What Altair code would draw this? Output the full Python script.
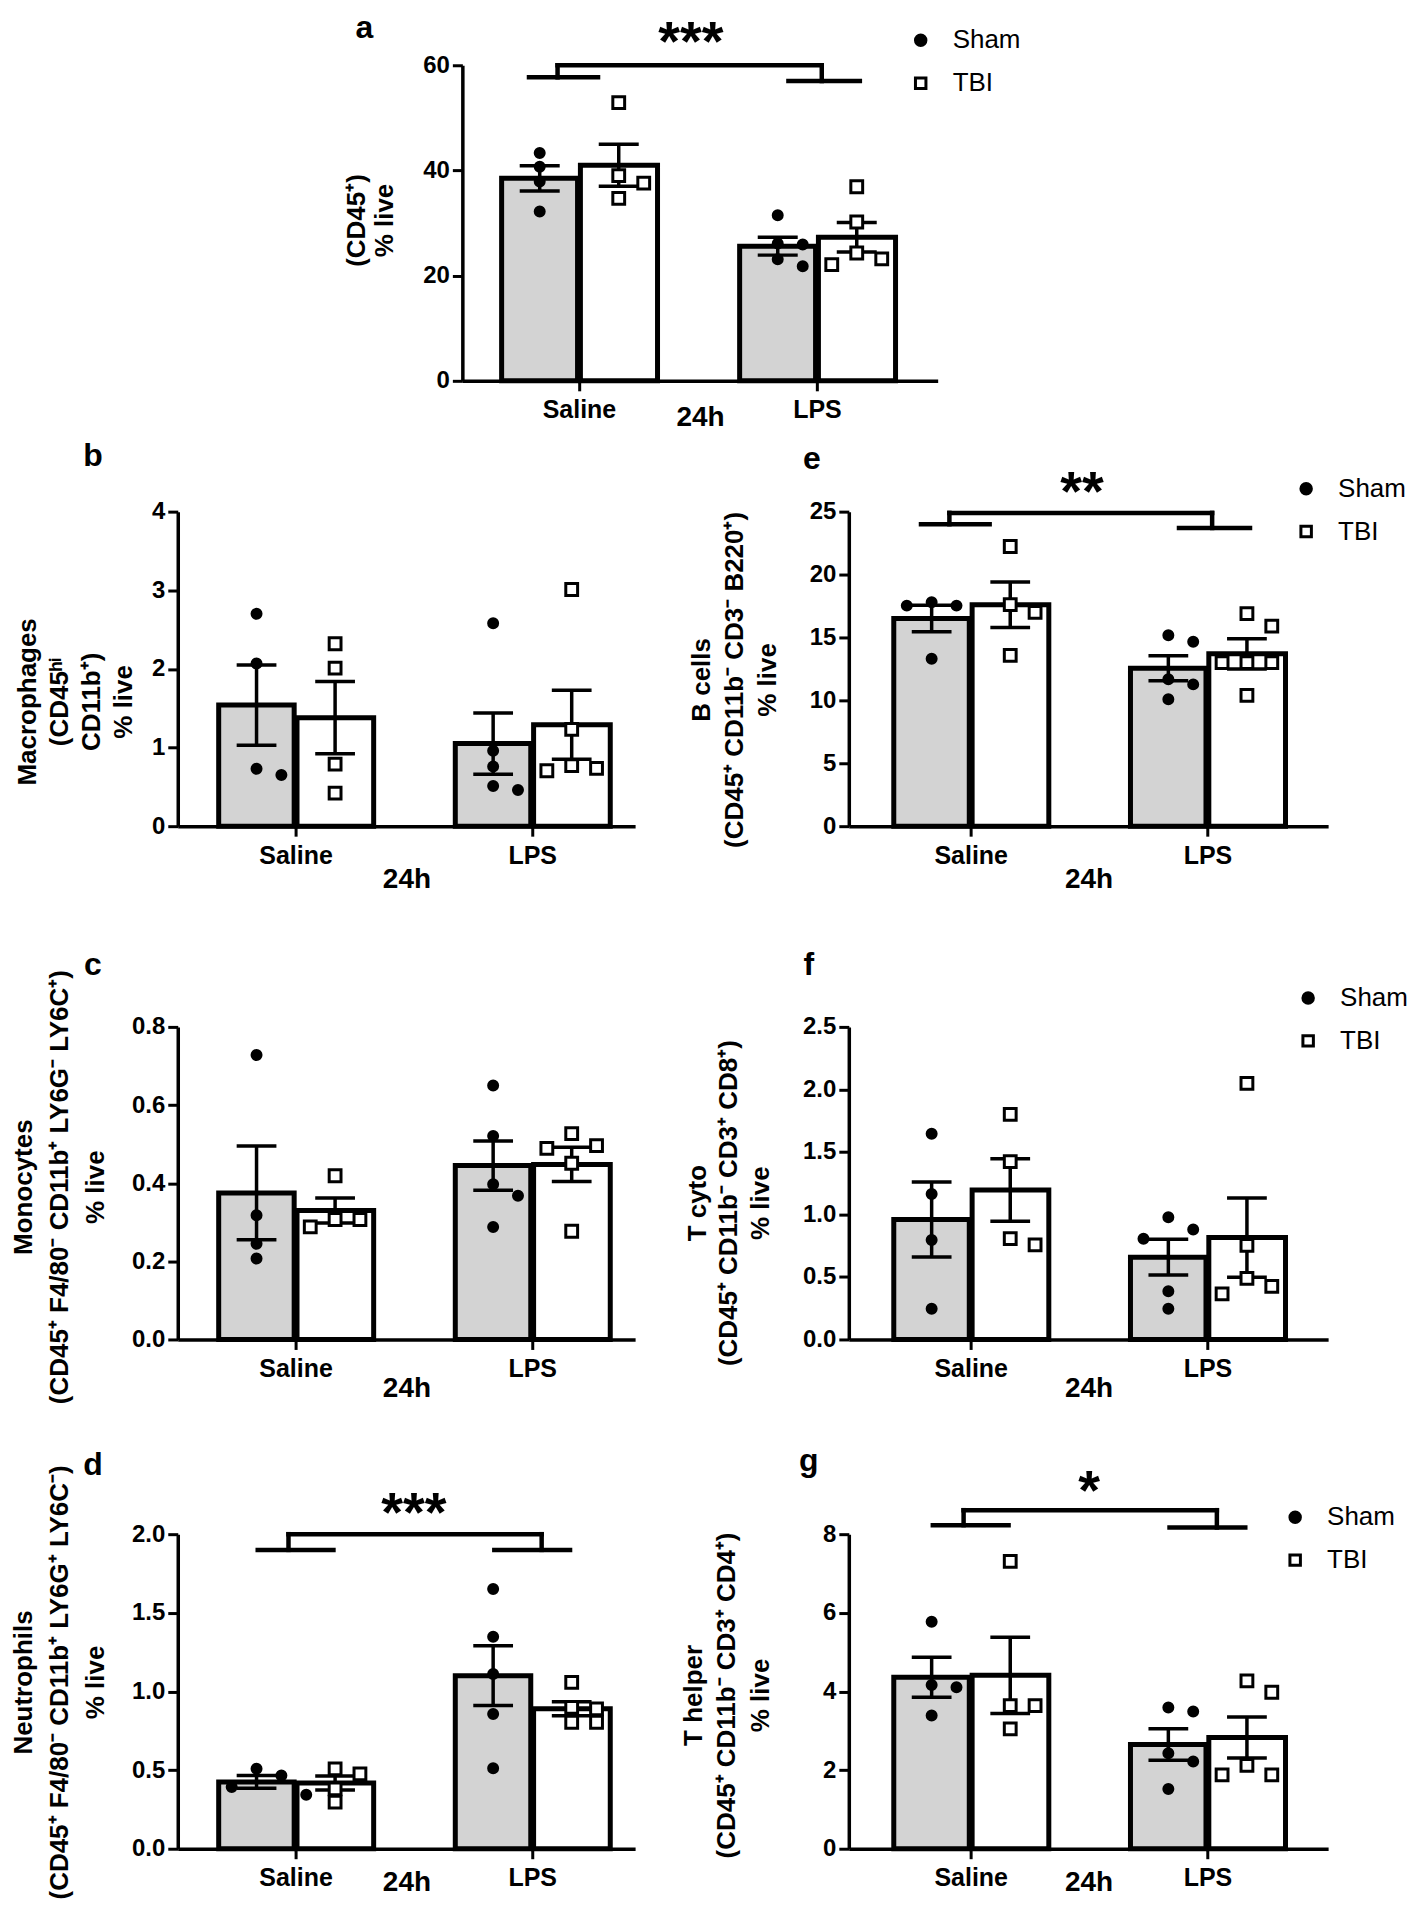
import altair as alt
import pandas as pd

FONT = "Liberation Sans"
GROUPS = ["Saline", "LPS"]
CONDS = ["Sham", "TBI"]

# ---------------- data ----------------
# order of mean / sem lists: Saline-Sham, Saline-TBI, LPS-Sham, LPS-TBI
# a  (CD45+)
a_sal_sham = [43.3, 40.7, 37.9, 32.2]
a_sal_tbi = [52.9, 39.0, 37.6, 34.7]
a_lps_sham = [31.5, 26.1, 25.9, 23.1, 21.8]
a_lps_tbi = [36.9, 30.2, 24.3, 23.2, 22.1]
a_mean = [38.5, 41.0, 25.6, 27.3]
a_sem = [2.4, 4.0, 1.7, 2.8]
a_ticks = [0, 20, 40, 60]
a_title = ["(CD45⁺)", "% live"]
a_sig = ["***", 60.0, 57.7, 57.0, 66.1]

# b  Macrophages
b_sal_sham = [2.70, 2.07, 0.73, 0.65]
b_sal_tbi = [2.32, 2.01, 0.79, 0.42]
b_lps_sham = [2.58, 0.96, 0.76, 0.51, 0.46]
b_lps_tbi = [3.01, 1.23, 0.77, 0.735, 0.705]
b_mean = [1.54, 1.38, 1.05, 1.29]
b_sem = [0.51, 0.46, 0.39, 0.44]
b_ticks = [0, 1, 2, 3, 4]
b_title = ["Macrophages", "(CD45ʰⁱ", "CD11b⁺)", "% live"]

# c  Monocytes
c_sal_sham = [0.728, 0.318, 0.245, 0.207]
c_sal_tbi = [0.419, 0.307, 0.307, 0.288]
c_lps_sham = [0.650, 0.521, 0.397, 0.368, 0.288]
c_lps_tbi = [0.527, 0.496, 0.489, 0.451, 0.277]
c_mean = [0.375, 0.330, 0.445, 0.448]
c_sem = [0.120, 0.032, 0.063, 0.044]
c_ticks = [0.0, 0.2, 0.4, 0.6, 0.8]
c_title = ["Monocytes", "(CD45⁺ F4/80⁻ CD11b⁺ LY6G⁻ LY6C⁺)", "% live"]

# d  Neutrophils
d_sal_sham = [0.508, 0.466, 0.392, 0.343]
d_sal_tbi = [0.508, 0.476, 0.381, 0.296]
d_lps_sham = [1.651, 1.348, 1.111, 0.857, 0.512]
d_lps_tbi = [1.058, 0.899, 0.889, 0.804, 0.804]
d_mean = [0.425, 0.418, 1.10, 0.89]
d_sem = [0.040, 0.045, 0.19, 0.045]
d_ticks = [0.0, 0.5, 1.0, 1.5, 2.0]
d_title = ["Neutrophils", "(CD45⁺ F4/80⁻ CD11b⁺ LY6G⁺ LY6C⁻)", "% live"]
d_sig = ["***", 2.0, 1.9, 1.9, 2.19]

# e  B cells
e_sal_sham = [17.79, 17.53, 17.53, 13.31]
e_sal_tbi = [22.23, 17.61, 17.0, 13.57]
e_lps_sham = [15.18, 14.65, 11.67, 11.27, 10.08]
e_lps_tbi = [16.9, 15.9, 13.0, 13.0, 13.0, 10.4]
e_mean = [16.5, 17.6, 12.55, 13.7]
e_sem = [1.05, 1.8, 1.0, 1.2]
e_ticks = [0, 5, 10, 15, 20, 25]
e_title = ["B cells", "(CD45⁺ CD11b⁻ CD3⁻ B220⁺)", "% live"]
e_sig = ["**", 24.9, 24.0, 23.7, 27.3]

# f  T cyto
f_sal_sham = [1.646, 1.163, 0.795, 0.246]
f_sal_tbi = [1.80, 1.422, 0.806, 0.756]
f_lps_sham = [0.978, 0.880, 0.806, 0.386, 0.246]
f_lps_tbi = [2.048, 0.753, 0.489, 0.425, 0.365]
f_mean = [0.96, 1.195, 0.658, 0.815]
f_sem = [0.30, 0.25, 0.143, 0.317]
f_ticks = [0.0, 0.5, 1.0, 1.5, 2.0, 2.5]
f_title = ["T cyto", "(CD45⁺ CD11b⁻ CD3⁺ CD8⁺)", "% live"]

# g  T helper
g_sal_sham = [5.77, 4.165, 4.106, 3.386]
g_sal_tbi = [7.31, 3.64, 3.64, 3.05]
g_lps_sham = [3.59, 3.49, 2.43, 2.22, 1.52]
g_lps_tbi = [4.27, 3.98, 2.12, 1.88, 1.88]
g_mean = [4.36, 4.41, 2.65, 2.83]
g_sem = [0.51, 0.97, 0.40, 0.52]
g_ticks = [0, 2, 4, 6, 8]
g_title = ["T helper", "(CD45⁺ CD11b⁻ CD3⁺ CD4⁺)", "% live"]
g_sig = ["*", 8.61, 8.23, 8.17, 9.32]

# ---------------- layout / style (not data) ----------------
LEFT_DOM = [-0.498, 1.435]
RIGHT_DOM = [-0.515, 1.51]
WIDE = dict(L=(-0.21, 0.08), vL=-0.09, R=(0.88, 1.18), vR=1.02, sx=0.47)
NARROW = dict(L=(-0.16, 0.16), vL=-0.03, R=(0.84, 1.16), vR=1.04, sx=0.50)

LAYOUT = {
    "a": dict(W=476, H=316, dom=[-0.49, 1.507], tx=-106, ty=155, lh=28, xt=45, fmt="d",
              letter=(-98, -27), legend=(446, -38), geom=WIDE),
    "b": dict(W=458, H=315, dom=LEFT_DOM, tx=-150, ty=190, lh=32, xt=61, fmt="d",
              letter=(-85, -46)),
    "c": dict(W=458, H=313, dom=LEFT_DOM, tx=-154, ty=160, lh=36, xt=57, fmt=".1f",
              letter=(-85, -52)),
    "d": dict(W=458, H=315, dom=LEFT_DOM, tx=-154, ty=148, lh=36, xt=42, fmt=".1f",
              letter=(-85, -59), geom=NARROW),
    "e": dict(W=480, H=315, dom=RIGHT_DOM, tx=-147, ty=168, lh=33, xt=61, fmt="d",
              letter=(-37, -43), legend=(445, -36), geom=WIDE),
    "f": dict(W=480, H=313, dom=RIGHT_DOM, tx=-152, ty=176, lh=32, xt=57, fmt=".1f",
              letter=(-40, -52), legend=(447, -42)),
    "g": dict(W=480, H=315, dom=RIGHT_DOM, tx=-156, ty=161, lh=34, xt=42, fmt="d",
              letter=(-40, -63), legend=(434, -30), geom=NARROW),
}


def swarm_slots(vals, ppu, thr=13.0):
    """simple column-scatter layout: points closer than thr px share a row."""
    order = sorted(range(len(vals)), key=lambda i: -vals[i])
    clusters = []
    for i in order:
        if clusters and (vals[clusters[-1][-1]] - vals[i]) * ppu < thr:
            clusters[-1].append(i)
        else:
            clusters.append([i])
    pattern = [0, 1, -1, 2, -2, 3]
    slots = [0] * len(vals)
    for cl in clusters:
        for k, i in enumerate(cl):
            slots[i] = pattern[k]
    return slots


def panel(key, groups_pts, means, sems, ticks, title, sig=None):
    L = LAYOUT[key]
    W, H = L["W"], L["H"]
    ymax = ticks[-1]
    keys = [("Saline", "Sham"), ("Saline", "TBI"), ("LPS", "Sham"), ("LPS", "TBI")]
    rows = []
    for (g, c), vals in zip(keys, groups_pts):
        for v, s in zip(vals, swarm_slots(vals, H / ymax)):
            rows.append({"group": g, "cond": c, "value": v, "slot": s})
    pts_df = pd.DataFrame(rows)
    bar_df = pd.DataFrame({"group": [k[0] for k in keys], "cond": [k[1] for k in keys],
                           "mean": means, "sem": sems})

    xs = alt.Scale(domain=L["dom"], nice=False, zero=False)
    ys = alt.Scale(domain=[0, ymax], nice=False, zero=True)
    xaxis = alt.Axis(values=[0, 1], labelExpr="datum.value == 0 ? 'Saline' : 'LPS'",
                     labelFont=FONT, labelFontSize=25, labelFontWeight="bold", labelColor="black",
                     labelPadding=7, labelFlush=False, labelOverlap=False,
                     tickSize=10, tickWidth=3, tickColor="black",
                     domainWidth=3.5, domainColor="black", grid=False,
                     title="24h", titleFont=FONT, titleFontSize=28, titleFontWeight="bold",
                     titleColor="black", titleY=L["xt"], titleBaseline="alphabetic")
    yaxis = alt.Axis(values=ticks, format=L["fmt"],
                     labelFont=FONT, labelFontSize=24, labelFontWeight="bold", labelColor="black",
                     labelPadding=3, tickSize=10, tickWidth=3, tickColor="black",
                     domainWidth=3.5, domainColor="black", grid=False,
                     title=title, titleFont=FONT, titleFontSize=26, titleFontWeight="bold",
                     titleColor="black", titleAngle=270, titleAlign="center",
                     titleBaseline="middle", titleX=L["tx"], titleY=L["ty"],
                     titleLineHeight=L["lh"])

    gi = "indexof(['Saline','LPS'], datum.group)"
    base = alt.Chart(bar_df).transform_calculate(
        gi=gi,
        lo="datum.gi + (datum.cond == 'Sham' ? -0.325 : 0.006)",
        hi="datum.gi + (datum.cond == 'Sham' ? -0.006 : 0.33)",
        ctr="datum.gi + (datum.cond == 'Sham' ? -0.165 : 0.167)",
        cl="datum.ctr - 0.084",
        cr="datum.ctr + 0.084",
        elo="datum.mean - datum.sem",
        ehi="datum.mean + datum.sem",
        barfill="datum.cond == 'Sham' ? '#d3d3d3' : '#ffffff'",
    )
    bars = base.mark_bar(stroke="black", strokeWidth=5, strokeJoin="miter").encode(
        x=alt.X("lo:Q", scale=xs, axis=xaxis), x2="hi:Q",
        y=alt.Y("mean:Q", scale=ys, axis=yaxis), y2=alt.datum(0),
        fill=alt.Fill("barfill:N", scale=None))
    err = base.mark_rule(color="black", strokeWidth=3.5).encode(
        x=alt.X("ctr:Q", scale=xs, axis=xaxis), y=alt.Y("elo:Q", scale=ys, axis=yaxis), y2="ehi:Q")
    cap_lo = base.mark_rule(color="black", strokeWidth=3.5).encode(
        x=alt.X("cl:Q", scale=xs, axis=xaxis), x2="cr:Q", y=alt.Y("elo:Q", scale=ys, axis=yaxis))
    cap_hi = base.mark_rule(color="black", strokeWidth=3.5).encode(
        x=alt.X("cl:Q", scale=xs, axis=xaxis), x2="cr:Q", y=alt.Y("ehi:Q", scale=ys, axis=yaxis))

    if "legend" in L:
        leg = alt.Legend(orient="none", legendX=L["legend"][0], legendY=L["legend"][1], title=None,
                         labelFont=FONT, labelFontSize=26, labelColor="black", labelOffset=19,
                         rowPadding=17, symbolStrokeColor="black", symbolStrokeWidth=3,
                         symbolSize=110, padding=0)
    else:
        leg = None
    pts_base = alt.Chart(pts_df).transform_calculate(
        px=gi + " + (datum.cond == 'Sham' ? -0.165 : 0.167) + datum.slot * 0.105"
    )
    pt_enc = dict(
        x=alt.X("px:Q", scale=xs, axis=xaxis), y=alt.Y("value:Q", scale=ys, axis=yaxis),
        shape=alt.Shape("cond:N", scale=alt.Scale(domain=CONDS, range=["circle", "square"]), legend=leg),
        fill=alt.Fill("cond:N", scale=alt.Scale(domain=CONDS, range=["black", "white"]), legend=leg),
    )
    sham_pts = pts_base.transform_filter("datum.cond == 'Sham'").mark_point(
        filled=True, stroke="black", strokeWidth=2, size=100, opacity=1).encode(**pt_enc)
    tbi_pts = pts_base.transform_filter("datum.cond == 'TBI'").mark_point(
        filled=True, stroke="black", strokeWidth=3, size=140, opacity=1).encode(**pt_enc)
    layers = [bars, err, cap_lo, cap_hi, sham_pts, tbi_pts]

    if sig is not None:
        gm = L["geom"]
        top, fl, fr = sig[1], sig[2], sig[3]
        seg = pd.DataFrame({
            "x": [gm["vL"], gm["vL"], gm["L"][0], gm["vR"], gm["R"][0]],
            "x2": [gm["vR"], gm["vL"], gm["L"][1], gm["vR"], gm["R"][1]],
            "y": [top, fl, fl, fr, fr],
            "y2": [top, top, fl, top, fr],
        })
        layers.append(alt.Chart(seg).mark_rule(color="black", strokeWidth=4.5, strokeCap="square").encode(
            x=alt.X("x:Q", scale=xs, axis=xaxis), x2="x2:Q",
            y=alt.Y("y:Q", scale=ys, axis=yaxis), y2="y2:Q"))
        star = pd.DataFrame({"x": [gm["sx"]], "y": [sig[4]], "t": [sig[0]]})
        layers.append(alt.Chart(star).mark_text(font=FONT, fontSize=56, fontWeight="bold",
                                                baseline="alphabetic", dy=27, color="black").encode(
            x=alt.X("x:Q", scale=xs, axis=xaxis), y=alt.Y("y:Q", scale=ys, axis=yaxis), text="t:N"))

    letter = pd.DataFrame({"t": [key]})
    layers.append(alt.Chart(letter).mark_text(font=FONT, fontSize=32, fontWeight="bold",
                                              baseline="alphabetic", align="center", color="black").encode(
        x=alt.value(L["letter"][0]), y=alt.value(L["letter"][1]), text="t:N"))

    return alt.layer(*layers).properties(width=W, height=H)


def spacer(w, h):
    return alt.Chart(pd.DataFrame({"v": [0]})).mark_rule(opacity=0).encode(
        x=alt.value(0), x2=alt.value(w), y=alt.value(0)).properties(width=w, height=h)


def independent(ch):
    return ch.resolve_scale(shape="independent", fill="independent").resolve_legend(
        shape="independent", fill="independent")


A = panel("a", [a_sal_sham, a_sal_tbi, a_lps_sham, a_lps_tbi], a_mean, a_sem, a_ticks, a_title, a_sig)
B = panel("b", [b_sal_sham, b_sal_tbi, b_lps_sham, b_lps_tbi], b_mean, b_sem, b_ticks, b_title)
C = panel("c", [c_sal_sham, c_sal_tbi, c_lps_sham, c_lps_tbi], c_mean, c_sem, c_ticks, c_title)
D = panel("d", [d_sal_sham, d_sal_tbi, d_lps_sham, d_lps_tbi], d_mean, d_sem, d_ticks, d_title, d_sig)
E = panel("e", [e_sal_sham, e_sal_tbi, e_lps_sham, e_lps_tbi], e_mean, e_sem, e_ticks, e_title, e_sig)
F = panel("f", [f_sal_sham, f_sal_tbi, f_lps_sham, f_lps_tbi], f_mean, f_sem, f_ticks, f_title)
G = panel("g", [g_sal_sham, g_sal_tbi, g_lps_sham, g_lps_tbi], g_mean, g_sem, g_ticks, g_title, g_sig)

top_row = independent(alt.hconcat(spacer(285, 316), A, spacing=0, bounds="flush"))

grid = independent(alt.concat(
    B, E,
    spacer(1, 201), spacer(1, 201),
    C, F,
    spacer(1, 195), spacer(1, 195),
    D, G,
    columns=2, spacing={"row": 0, "column": 214}, bounds="flush", align="each",
))

chart = independent(alt.vconcat(top_row, grid, spacing=8)).configure(
    font=FONT
).configure_view(
    strokeWidth=0, stroke="transparent"
).properties(
    padding={"left": 3, "top": 3, "right": 2, "bottom": 0}
)

chart.save("out.html", embed_options={"renderer": "svg", "actions": False})
